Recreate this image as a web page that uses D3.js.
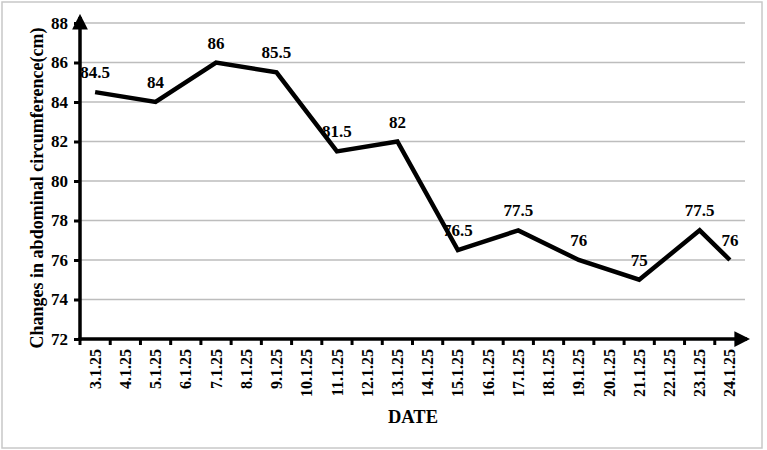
<!DOCTYPE html>
<html>
<head>
<meta charset="utf-8">
<script src="https://cdn.jsdelivr.net/npm/d3@7.9.0/dist/d3.min.js"></script>
<style>
  body { margin: 0; background: #fff; }
  text { font-family: "Liberation Serif", "Times New Roman", serif; font-weight: bold; }
</style>
</head>
<body>
<svg id="chart" width="767" height="450"></svg>
<script>
const dates = ["3.1.25", "4.1.25", "5.1.25", "6.1.25", "7.1.25", "8.1.25", "9.1.25", "10.1.25",
    "11.1.25", "12.1.25", "13.1.25", "14.1.25", "15.1.25", "16.1.25", "17.1.25", "18.1.25",
    "19.1.25", "20.1.25", "21.1.25", "22.1.25", "23.1.25", "24.1.25"];
const measuredDates = ["3.1.25", "5.1.25", "7.1.25", "9.1.25", "11.1.25", "13.1.25",
    "15.1.25", "17.1.25", "19.1.25", "21.1.25", "23.1.25", "24.1.25"];
const circumference = [84.5, 84, 86, 85.5, 81.5, 82, 76.5, 77.5, 76, 75, 77.5, 76];
const yTicks = [72, 74, 76, 78, 80, 82, 84, 86, 88];

const svg = d3.select("#chart");

// outer frame
svg.append("rect")
    .attr("x", 2).attr("y", 2)
    .attr("width", 760).attr("height", 446)
    .attr("fill", "none")
    .attr("stroke", "#c8c8c8")
    .attr("stroke-width", 1.5);

const plotLeft = 80, plotRight = 745, plotTop = 23, plotBottom = 339;

const x = d3.scaleBand().domain(dates).range([plotLeft, plotRight]);
const y = d3.scaleLinear().domain([72, 88]).range([plotBottom, plotTop]);

// arrow head
svg.append("defs")
    .append("marker")
    .attr("id", "arrow")
    .attr("viewBox", "0 0 10 10")
    .attr("refX", 8)
    .attr("refY", 5)
    .attr("markerWidth", 4.5)
    .attr("markerHeight", 4.5)
    .attr("orient", "auto")
    .append("path")
    .attr("d", "M 0 0 L 10 5 L 0 10 z")
    .attr("fill", "black");

// gridlines
svg.append("g")
    .selectAll("line")
    .data(yTicks.filter(d => d > 72))
    .join("line")
    .attr("x1", plotLeft).attr("x2", plotRight)
    .attr("y1", d => y(d)).attr("y2", d => y(d))
    .attr("stroke", "#bdbdbd")
    .attr("stroke-width", 1.5);

// y axis
const yAxis = svg.append("g")
    .attr("transform", `translate(${plotLeft},0)`)
    .call(d3.axisLeft(y).tickValues(yTicks).tickSize(6).tickPadding(6).tickFormat(d3.format("d")));
yAxis.select(".domain").remove();
yAxis.selectAll(".tick line").attr("stroke", "black").attr("stroke-width", 3);
yAxis.selectAll(".tick text")
    .attr("font-size", 17)
    .attr("fill", "black")
    .attr("font-family", "Liberation Serif, serif")
    .attr("font-weight", "bold");
svg.append("line")
    .attr("x1", plotLeft).attr("x2", plotLeft)
    .attr("y1", plotBottom + 1.5).attr("y2", plotTop - 6)
    .attr("stroke", "black")
    .attr("stroke-width", 3.5)
    .attr("marker-end", "url(#arrow)");

// x axis
const xAxis = svg.append("g")
    .attr("transform", `translate(0,${plotBottom})`)
    .call(d3.axisBottom(x).tickSize(0).tickPadding(10));
xAxis.select(".domain").remove();
xAxis.selectAll(".tick text")
    .attr("transform", "rotate(-90)")
    .attr("text-anchor", "end")
    .attr("dy", "0.35em")
    .attr("x", -10)
    .attr("y", 0)
    .attr("font-size", 16)
    .attr("fill", "black")
    .attr("font-family", "Liberation Serif, serif")
    .attr("font-weight", "bold");

// category boundary ticks
svg.append("g")
    .selectAll("line")
    .data(dates)
    .join("line")
    .attr("x1", d => x(d)).attr("x2", d => x(d))
    .attr("y1", plotBottom).attr("y2", plotBottom + 6)
    .attr("stroke", "black")
    .attr("stroke-width", 3);

svg.append("line")
    .attr("x1", plotLeft - 1.5).attr("x2", plotRight + 2)
    .attr("y1", plotBottom).attr("y2", plotBottom)
    .attr("stroke", "black")
    .attr("stroke-width", 3.5)
    .attr("marker-end", "url(#arrow)");

// axis titles
svg.append("text")
    .attr("transform", "translate(37,188) rotate(-90)")
    .attr("text-anchor", "middle")
    .attr("dy", "0.35em")
    .attr("font-size", 18)
    .text("Changes in abdominal circumference(cm)");

svg.append("text")
    .attr("x", 413)
    .attr("y", 423)
    .attr("text-anchor", "middle")
    .attr("font-size", 18.5)
    .text("DATE");

// line
const points = measuredDates.map((d, i) => ({ date: d, value: circumference[i] }));
const cx = d => x(d.date) + x.bandwidth() / 2;

svg.append("path")
    .datum(points)
    .attr("fill", "none")
    .attr("stroke", "black")
    .attr("stroke-width", 4.5)
    .attr("stroke-linejoin", "miter")
    .attr("d", d3.line().x(cx).y(d => y(d.value)));

// data labels
svg.append("g")
    .selectAll("text")
    .data(points)
    .join("text")
    .attr("x", cx)
    .attr("y", d => y(d.value) - 14)
    .attr("text-anchor", "middle")
    .attr("font-size", 17)
    .attr("fill", "black")
    .text(d => d.value);
</script>
</body>
</html>
